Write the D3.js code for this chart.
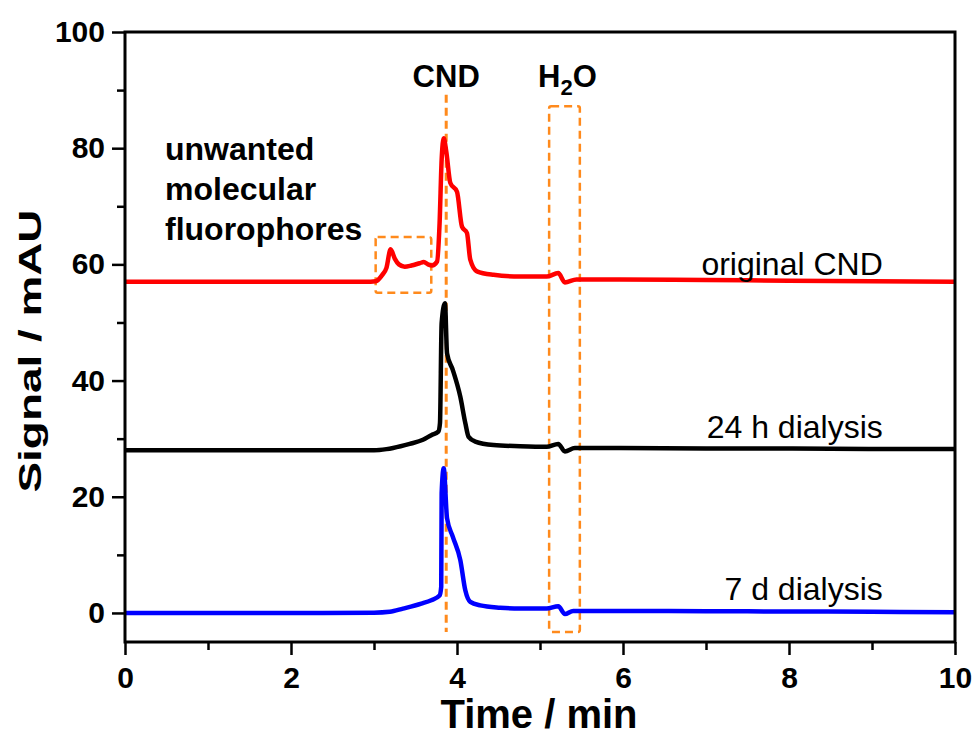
<!DOCTYPE html>
<meta charset="utf-8">
<html>
<head>
<title>CND chromatogram</title>
<script src="https://d3js.org/d3.v7.min.js"></script>
<style>
  body { margin: 0; background: #fff; }
  text { font-family: "Liberation Sans", Arial, sans-serif; }
</style>
</head>
<body>
<div id="chart"></div>
<script>
// retention time (min) and signal (mAU)
var redT = [0, 1, 2, 2.9, 3.02, 3.1, 3.15, 3.2, 3.25, 3.3, 3.37, 3.45, 3.55, 3.6, 3.65, 3.7, 3.76, 3.79, 3.815, 3.84, 3.87, 3.92, 4.0, 4.06, 4.12, 4.16, 4.24, 4.44, 4.76, 5.08, 5.22, 5.3, 5.44, 5.96, 7, 8, 9, 10];
var redV = [57, 57, 57, 57, 57.1, 58.2, 59.4, 62.6, 61.0, 60.0, 59.6, 59.8, 60.2, 60.4, 60.0, 59.8, 60.5, 67, 78, 81.7, 79.5, 74, 72.5, 66.5, 65.4, 60.8, 58.8, 58.2, 57.9, 57.9, 58.5, 56.9, 57.4, 57.4, 57.3, 57.2, 57.1, 57.0];

var blackT = [0, 1, 2, 3.0, 3.15, 3.23, 3.43, 3.59, 3.69, 3.775, 3.795, 3.815, 3.855, 3.88, 3.95, 4.04, 4.10, 4.14, 4.22, 4.44, 4.76, 5.08, 5.22, 5.3, 5.42, 5.96, 7, 8, 9, 10];
var blackV = [28, 28, 28, 28.0, 28.2, 28.4, 29.1, 29.8, 30.6, 31.2, 32.7, 49.9, 53.3, 44.7, 41.8, 37.2, 32.7, 30.3, 29.5, 28.9, 28.7, 28.6, 29.1, 27.8, 28.4, 28.4, 28.3, 28.3, 28.2, 28.2];

var blueT = [0, 1, 2, 3.0, 3.19, 3.35, 3.57, 3.69, 3.79, 3.81, 3.815, 3.84, 3.88, 3.95, 4.04, 4.10, 4.16, 4.28, 4.52, 4.76, 5.08, 5.22, 5.3, 5.4, 5.96, 7, 8, 9, 10];
var blueV = [0, 0, 0, 0.05, 0.2, 0.75, 1.6, 2.2, 3.0, 4.5, 20.6, 24.9, 16.3, 13.1, 9.1, 3.9, 1.9, 1.3, 0.9, 0.75, 0.75, 1.15, -0.2, 0.35, 0.35, 0.3, 0.25, 0.2, 0.1];

var seriesNames = ["original CND", "24 h dialysis", "7 d dialysis"];
var seriesColors = ["#ff0000", "#000000", "#0000ff"];
var labelAt = [[9.13, 58.2], [9.13, 30.1], [9.13, 2.2]];

var xTicks = [0, 2, 4, 6, 8, 10];
var xMinor = [1, 3, 5, 7, 9];
var yTicks = [0, 20, 40, 60, 80, 100];
var yMinor = [10, 30, 50, 70, 90];

// markers: CND retention line, boxes around impurity peaks and water dip
var cndLine = {t: 3.87, y0: -3.3, y1: 89.2};
var impBox = {t0: 3.02, t1: 3.69, y0: 55.1, y1: 64.7};
var waterBox = {t0: 5.11, t1: 5.48, y0: -3.3, y1: 87.2};

var W = 976, H = 735;
var margin = {top: 32, right: 21, bottom: 93, left: 125};
var width = W - margin.left - margin.right,
    height = H - margin.top - margin.bottom;

var x = d3.scaleLinear().domain([0, 10]).range([0, width]);
var y = d3.scaleLinear().domain([-5, 100]).range([height, 0]);

var svg = d3.select("#chart").append("svg")
    .attr("width", W)
    .attr("height", H);

var g = svg.append("g")
    .attr("transform", "translate(" + margin.left + "," + margin.top + ")");

var orange = "#ff8a1c";

// dashed markers first, curves on top
g.append("line")
    .attr("x1", x(cndLine.t)).attr("x2", x(cndLine.t))
    .attr("y1", y(cndLine.y1)).attr("y2", y(cndLine.y0))
    .attr("stroke", orange).attr("stroke-width", 3)
    .attr("stroke-dasharray", "8,5");

[impBox, waterBox].forEach(function(b) {
  g.append("rect")
      .attr("x", x(b.t0)).attr("y", y(b.y1))
      .attr("width", x(b.t1) - x(b.t0))
      .attr("height", y(b.y0) - y(b.y1))
      .attr("rx", 2)
      .attr("fill", "none")
      .attr("stroke", orange).attr("stroke-width", 2.5)
      .attr("stroke-dasharray", "8,5");
});

var line = d3.line()
    .x(function(d) { return x(d[0]); })
    .y(function(d) { return y(d[1]); })
    .curve(d3.curveMonotoneX);

[[redT, redV], [blackT, blackV], [blueT, blueV]].forEach(function(s, i) {
  var pts = d3.zip(s[0], s[1]);
  g.append("path")
      .datum(pts)
      .attr("d", line)
      .attr("fill", "none")
      .attr("stroke", seriesColors[i])
      .attr("stroke-width", 4.5)
      .attr("stroke-linejoin", "round");
  g.append("text")
      .attr("x", x(labelAt[i][0]))
      .attr("y", y(labelAt[i][1]))
      .attr("text-anchor", "end")
      .attr("font-size", 32)
      .text(seriesNames[i]);
});

// axes
g.append("g")
    .attr("transform", "translate(0," + height + ")")
    .call(d3.axisBottom(x).tickValues(xTicks).tickSize(13).tickPadding(12).tickFormat(d3.format("d")));
g.append("g")
    .attr("transform", "translate(0," + height + ")")
    .call(d3.axisBottom(x).tickValues(xMinor).tickSize(8).tickFormat(""));
g.append("g")
    .call(d3.axisLeft(y).tickValues(yTicks).tickSize(13).tickPadding(7).tickFormat(d3.format("d")));
g.append("g")
    .call(d3.axisLeft(y).tickValues(yMinor).tickSize(8).tickFormat(""));

g.selectAll(".domain").remove();
g.selectAll(".tick line").attr("stroke", "#000").attr("stroke-width", 2.5);
g.selectAll(".tick text")
    .attr("font-family", "Liberation Sans, Arial, sans-serif")
    .attr("font-size", 30)
    .attr("font-weight", "bold")
    .attr("fill", "#000");

// frame
g.append("rect")
    .attr("width", width).attr("height", height)
    .attr("fill", "none")
    .attr("stroke", "#000").attr("stroke-width", 3);

// axis titles
svg.append("text")
    .attr("x", 539)
    .attr("y", 728)
    .attr("text-anchor", "middle")
    .attr("font-size", 40)
    .attr("font-weight", "bold")
    .text("Time / min");

svg.append("text")
    .attr("transform", "translate(41," + 351 + ") rotate(-90)")
    .attr("text-anchor", "middle")
    .attr("font-size", 31)
    .attr("font-weight", "bold")
    .attr("textLength", 283)
    .attr("lengthAdjust", "spacingAndGlyphs")
    .text("Signal / mAU");

// annotations
g.append("text")
    .attr("x", x(3.87)).attr("y", 55)
    .attr("text-anchor", "middle")
    .attr("font-size", 31).attr("font-weight", "bold")
    .text("CND");

var h2o = g.append("text")
    .attr("x", x(5.33)).attr("y", 55)
    .attr("text-anchor", "middle")
    .attr("font-size", 31).attr("font-weight", "bold");
h2o.append("tspan").text("H");
h2o.append("tspan").attr("font-size", 22).attr("dy", 8).text("2");
h2o.append("tspan").attr("dy", -8).text("O");

var note = ["unwanted", "molecular", "fluorophores"];
g.selectAll(".note")
    .data(note)
  .enter().append("text")
    .attr("class", "note")
    .attr("x", 40)
    .attr("y", function(d, i) { return 128 + i * 40; })
    .attr("font-size", 32).attr("font-weight", "bold")
    .text(function(d) { return d; });
</script>
</body>
</html>
